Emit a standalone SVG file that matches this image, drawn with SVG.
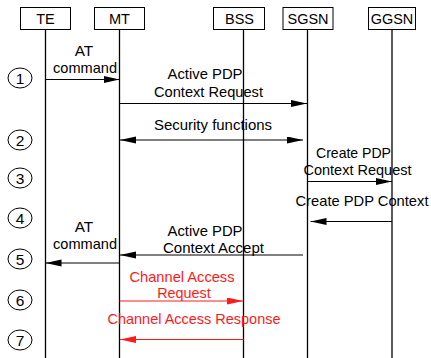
<svg xmlns="http://www.w3.org/2000/svg" width="431" height="358" viewBox="0 0 431 358">
<style>
text{font-family:"Liberation Sans",Arial,sans-serif;font-size:14.5px;text-anchor:middle;fill:#000}
.red{fill:#ff1a1a}
.box{fill:#fff;stroke:#000;stroke-width:1}
.life{stroke:#000;stroke-width:1.3}
.msg{stroke:#000;stroke-width:1;fill:none}
.rmsg{stroke:#ff1a1a;stroke-width:1;fill:none}
.num{fill:#fff;stroke:#000;stroke-width:1}
.n{font-size:15.5px}
</style>
<defs>
<marker id="ah" markerUnits="userSpaceOnUse" markerWidth="17" markerHeight="8" refX="16" refY="3.5" orient="auto-start-reverse" viewBox="0 0 17 8"><path d="M0,0 L16,3.5 L0,7 z" fill="#000"/></marker>
<marker id="rah" markerUnits="userSpaceOnUse" markerWidth="17" markerHeight="8" refX="16" refY="3.5" orient="auto-start-reverse" viewBox="0 0 17 8"><path d="M0,0 L16,3.5 L0,7 z" fill="#ff1a1a"/></marker>
</defs>
<rect width="431" height="358" fill="#fff"/>
<g id="lifelines">
<line class="life" x1="45.5" y1="30" x2="45.5" y2="358"/>
<line class="life" x1="119.5" y1="30" x2="119.5" y2="358"/>
<line class="life" x1="243.5" y1="30" x2="243.5" y2="358"/>
<line class="life" x1="307.5" y1="30" x2="307.5" y2="358"/>
<line class="life" x1="392" y1="30" x2="392" y2="358"/>
</g>
<g id="TE"><rect class="box" x="20.5" y="7.5" width="50" height="22"/><text x="45.5" y="23.5" textLength="18.5" lengthAdjust="spacingAndGlyphs">TE</text></g>
<g id="MT"><rect class="box" x="94.5" y="7.5" width="50" height="22"/><text x="119.5" y="23.5" textLength="21" lengthAdjust="spacingAndGlyphs">MT</text></g>
<g id="BSS"><rect class="box" x="213.5" y="7.5" width="51" height="22"/><text x="239.5" y="23.5" textLength="29" lengthAdjust="spacingAndGlyphs">BSS</text></g>
<g id="SGSN"><rect class="box" x="283" y="7.5" width="50" height="22"/><text x="308" y="23.5" textLength="41" lengthAdjust="spacingAndGlyphs">SGSN</text></g>
<g id="GGSN"><rect class="box" x="368.5" y="7.5" width="47" height="22"/><text x="392" y="23.5" textLength="42.5" lengthAdjust="spacingAndGlyphs">GGSN</text></g>
<g id="steps">
<g id="s1"><ellipse class="num" cx="20" cy="78" rx="12" ry="10"/><text class="n" x="20" y="83.5">1</text></g>
<g id="s2"><ellipse class="num" cx="20" cy="140" rx="12" ry="10"/><text class="n" x="20" y="145.5">2</text></g>
<g id="s3"><ellipse class="num" cx="20" cy="178" rx="12" ry="10"/><text class="n" x="20" y="183.5">3</text></g>
<g id="s4"><ellipse class="num" cx="20" cy="218" rx="12" ry="10"/><text class="n" x="20" y="223.5">4</text></g>
<g id="s5"><ellipse class="num" cx="20" cy="259" rx="12" ry="10"/><text class="n" x="20" y="264.5">5</text></g>
<g id="s6"><ellipse class="num" cx="20" cy="300" rx="12" ry="10"/><text class="n" x="20" y="305.5">6</text></g>
<g id="s7"><ellipse class="num" cx="20" cy="340" rx="12" ry="10"/><text class="n" x="20" y="345.5">7</text></g>
</g>
<g id="connectors">
<line class="msg" x1="45.5" y1="79.5" x2="119.5" y2="79.5" marker-end="url(#ah)"/>
<line class="msg" x1="119.5" y1="103.5" x2="307" y2="103.5" marker-end="url(#ah)"/>
<line class="msg" x1="120" y1="140" x2="303" y2="140" marker-start="url(#ah)" marker-end="url(#ah)"/>
<line class="msg" x1="307.5" y1="181.5" x2="392" y2="181.5" marker-end="url(#ah)"/>
<line class="msg" x1="392" y1="221.5" x2="310.5" y2="221.5" marker-end="url(#ah)"/>
<line class="msg" x1="303" y1="255" x2="120" y2="255" marker-end="url(#ah)"/>
<line class="msg" x1="119.5" y1="263" x2="45.5" y2="263" marker-end="url(#ah)"/>
<line class="rmsg" x1="119.5" y1="301" x2="243" y2="301" marker-end="url(#rah)"/>
<line class="rmsg" x1="243.5" y1="339.5" x2="120" y2="339.5" marker-end="url(#rah)"/>
</g>
<g id="labels">
<text x="84" y="56" textLength="18.5" lengthAdjust="spacingAndGlyphs">AT</text>
<text x="85" y="73" textLength="64" lengthAdjust="spacingAndGlyphs">command</text>
<text x="205" y="79" textLength="75" lengthAdjust="spacingAndGlyphs">Active PDP</text>
<text x="208.5" y="96.5" textLength="109" lengthAdjust="spacingAndGlyphs">Context Request</text>
<text x="213" y="130" textLength="118" lengthAdjust="spacingAndGlyphs">Security functions</text>
<text x="353.5" y="158" textLength="75" lengthAdjust="spacingAndGlyphs">Create PDP</text>
<text x="357.5" y="175" textLength="108" lengthAdjust="spacingAndGlyphs">Context Request</text>
<text x="362" y="206" textLength="133" lengthAdjust="spacingAndGlyphs">Create PDP Context</text>
<text x="84" y="232" textLength="18.5" lengthAdjust="spacingAndGlyphs">AT</text>
<text x="85" y="249" textLength="64" lengthAdjust="spacingAndGlyphs">command</text>
<text x="205" y="235.5" textLength="75" lengthAdjust="spacingAndGlyphs">Active PDP</text>
<text x="213.5" y="252.5" textLength="101" lengthAdjust="spacingAndGlyphs">Context Accept</text>
<text class="red" x="182" y="282" textLength="105" lengthAdjust="spacingAndGlyphs">Channel Access</text>
<text class="red" x="184" y="298" textLength="53.5" lengthAdjust="spacingAndGlyphs">Request</text>
<text class="red" x="194" y="324" textLength="173" lengthAdjust="spacingAndGlyphs">Channel Access Response</text>
</g>
</svg>
